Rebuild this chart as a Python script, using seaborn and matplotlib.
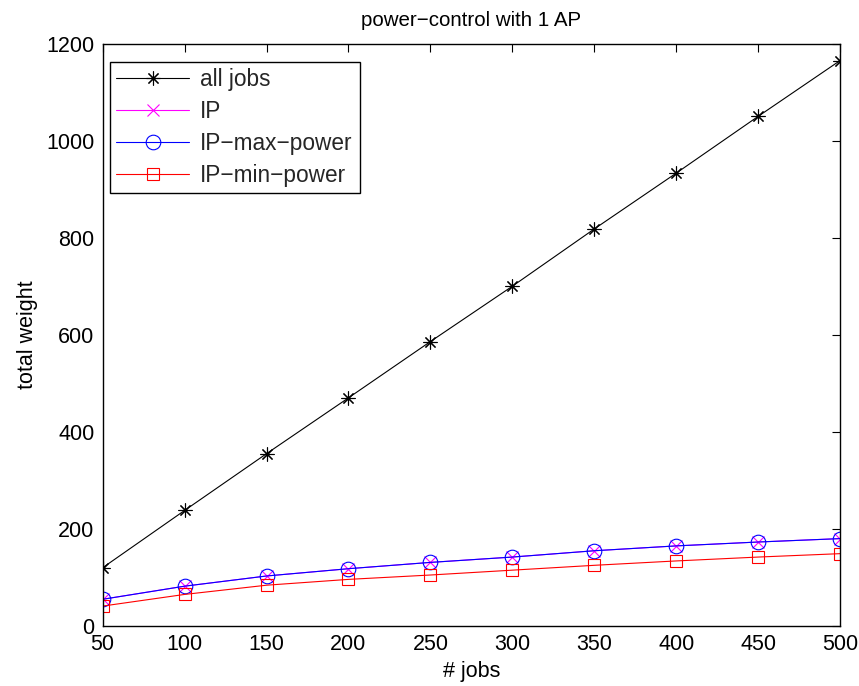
import matplotlib
matplotlib.use("Agg")
import matplotlib.pyplot as plt
import seaborn as sns

jobs = [50, 100, 150, 200, 250, 300, 350, 400, 450, 500]
all_jobs = [120, 238, 355, 470, 586, 700, 818, 933, 1050, 1165]
ip = [55, 82, 103, 118, 131, 142, 155, 165, 173, 180]
ip_max_power = [55, 82, 103, 118, 131, 142, 155, 165, 173, 180]
ip_min_power = [41, 65, 84, 96, 105, 115, 125, 134, 142, 149]

x_ticks = [50, 100, 150, 200, 250, 300, 350, 400, 450, 500]
y_ticks = [0, 200, 400, 600, 800, 1000, 1200]

sns.set_theme(style="white")
plt.rcParams["font.family"] = ["Liberation Sans", "DejaVu Sans"]
plt.rcParams["xtick.direction"] = "in"
plt.rcParams["ytick.direction"] = "in"

fig = plt.figure(figsize=(8.59, 6.86), dpi=100)
ax = fig.add_axes([0.1195, 0.0875, 0.8585, 0.849])

fs = 15.5
lw = 0.8
asterisk = (8, 2, 0)

sns.lineplot(x=jobs, y=all_jobs, ax=ax, color="black", marker=asterisk, markersize=10,
             markeredgecolor="black", markeredgewidth=0.8, linewidth=lw,
             label="all jobs")
sns.lineplot(x=jobs, y=ip, ax=ax, color="magenta", marker="x", markersize=8,
             markeredgecolor="magenta", markeredgewidth=0.8, linewidth=lw,
             label="IP")
sns.lineplot(x=jobs, y=ip_max_power, ax=ax, color="blue", marker="o", markersize=10.5,
             markerfacecolor="none", markeredgecolor="blue", markeredgewidth=0.8,
             linewidth=lw, label="IP\u2212max\u2212power")
sns.lineplot(x=jobs, y=ip_min_power, ax=ax, color="red", marker="s", markersize=9,
             markerfacecolor="none", markeredgecolor="red", markeredgewidth=0.8,
             linewidth=lw, label="IP\u2212min\u2212power")

ax.set_xlim(50, 500)
ax.set_ylim(0, 1200)
ax.set_xticks(x_ticks)
ax.set_yticks(y_ticks)
ax.tick_params(axis="both", which="both", labelsize=fs, length=6, width=0.8,
               color="black", top=True, right=True, pad=6, labelcolor="black")
for s in ax.spines.values():
    s.set_color("black")
    s.set_linewidth(1.0)

ax.set_title("power\u2212control with 1 AP", fontsize=14.8, color="black", pad=13)
ax.set_xlabel("# jobs", fontsize=fs, color="black", labelpad=4)
ax.set_ylabel("total weight", fontsize=fs, color="black", labelpad=6)

leg = ax.legend(loc="upper left", bbox_to_anchor=(0.0095, 0.969),
                bbox_transform=ax.transAxes, borderaxespad=0,
                fontsize=16.3, frameon=True, fancybox=False,
                edgecolor="black", framealpha=1, handlelength=3.2,
                labelspacing=0.385, borderpad=0.3, handletextpad=0.5)
leg.get_frame().set_linewidth(1.0)

fig.savefig("out.png", dpi=100)
